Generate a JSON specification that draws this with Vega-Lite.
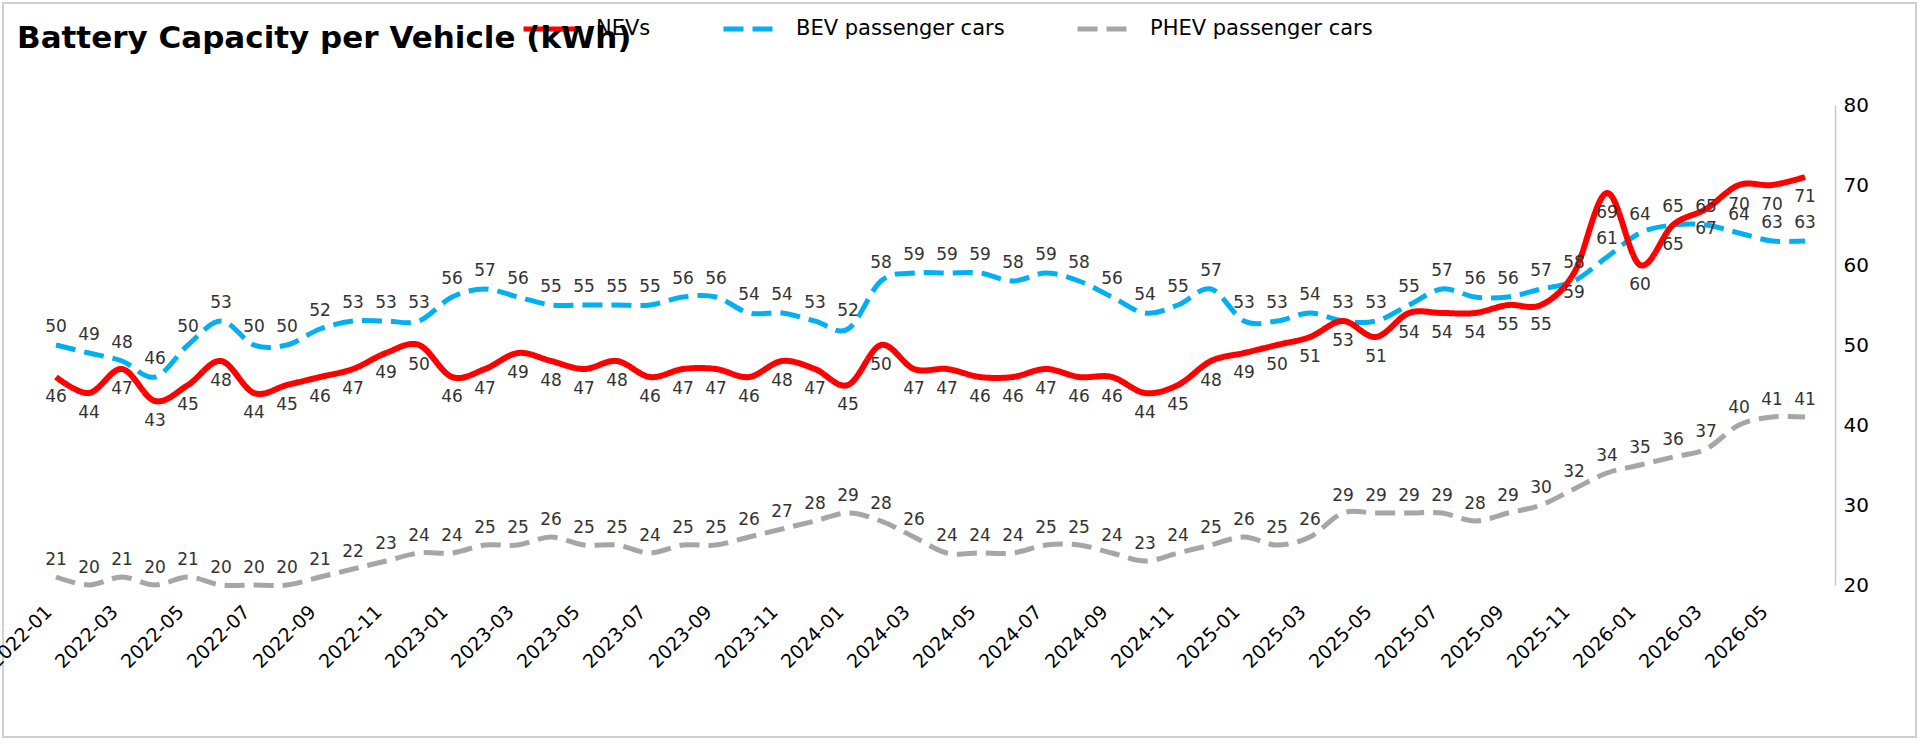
{
  "$schema": "https://vega.github.io/schema/vega-lite/v6.json",
  "width": 1913,
  "height": 734,
  "autosize": {"type": "none"},
  "padding": {"left": 3, "top": 3, "right": 6, "bottom": 9},
  "background": "white",
  "config": {
    "view": {"stroke": "#d0d0d0", "strokeWidth": 2},
    "font": "DejaVu Sans"
  },
  "title": {
    "text": "Battery Capacity per Vehicle (kWh)",
    "anchor": "start",
    "frame": "group",
    "font": "DejaVu Sans",
    "fontSize": 31,
    "fontWeight": "bold",
    "color": "black",
    "offset": -41,
    "baseline": "middle",
    "dx": 14,
    "dy": 30
  },
  "data": {
    "values": [
      {"month": "2022-01", "NEVs": 46, "BEV passenger cars": 50, "PHEV passenger cars": 21},
      {"month": "2022-02", "NEVs": 44, "BEV passenger cars": 49, "PHEV passenger cars": 20},
      {"month": "2022-03", "NEVs": 47, "BEV passenger cars": 48, "PHEV passenger cars": 21},
      {"month": "2022-04", "NEVs": 43, "BEV passenger cars": 46, "PHEV passenger cars": 20},
      {"month": "2022-05", "NEVs": 45, "BEV passenger cars": 50, "PHEV passenger cars": 21},
      {"month": "2022-06", "NEVs": 48, "BEV passenger cars": 53, "PHEV passenger cars": 20},
      {"month": "2022-07", "NEVs": 44, "BEV passenger cars": 50, "PHEV passenger cars": 20},
      {"month": "2022-08", "NEVs": 45, "BEV passenger cars": 50, "PHEV passenger cars": 20},
      {"month": "2022-09", "NEVs": 46, "BEV passenger cars": 52, "PHEV passenger cars": 21},
      {"month": "2022-10", "NEVs": 47, "BEV passenger cars": 53, "PHEV passenger cars": 22},
      {"month": "2022-11", "NEVs": 49, "BEV passenger cars": 53, "PHEV passenger cars": 23},
      {"month": "2022-12", "NEVs": 50, "BEV passenger cars": 53, "PHEV passenger cars": 24},
      {"month": "2023-01", "NEVs": 46, "BEV passenger cars": 56, "PHEV passenger cars": 24},
      {"month": "2023-02", "NEVs": 47, "BEV passenger cars": 57, "PHEV passenger cars": 25},
      {"month": "2023-03", "NEVs": 49, "BEV passenger cars": 56, "PHEV passenger cars": 25},
      {"month": "2023-04", "NEVs": 48, "BEV passenger cars": 55, "PHEV passenger cars": 26},
      {"month": "2023-05", "NEVs": 47, "BEV passenger cars": 55, "PHEV passenger cars": 25},
      {"month": "2023-06", "NEVs": 48, "BEV passenger cars": 55, "PHEV passenger cars": 25},
      {"month": "2023-07", "NEVs": 46, "BEV passenger cars": 55, "PHEV passenger cars": 24},
      {"month": "2023-08", "NEVs": 47, "BEV passenger cars": 56, "PHEV passenger cars": 25},
      {"month": "2023-09", "NEVs": 47, "BEV passenger cars": 56, "PHEV passenger cars": 25},
      {"month": "2023-10", "NEVs": 46, "BEV passenger cars": 54, "PHEV passenger cars": 26},
      {"month": "2023-11", "NEVs": 48, "BEV passenger cars": 54, "PHEV passenger cars": 27},
      {"month": "2023-12", "NEVs": 47, "BEV passenger cars": 53, "PHEV passenger cars": 28},
      {"month": "2024-01", "NEVs": 45, "BEV passenger cars": 52, "PHEV passenger cars": 29},
      {"month": "2024-02", "NEVs": 50, "BEV passenger cars": 58, "PHEV passenger cars": 28},
      {"month": "2024-03", "NEVs": 47, "BEV passenger cars": 59, "PHEV passenger cars": 26},
      {"month": "2024-04", "NEVs": 47, "BEV passenger cars": 59, "PHEV passenger cars": 24},
      {"month": "2024-05", "NEVs": 46, "BEV passenger cars": 59, "PHEV passenger cars": 24},
      {"month": "2024-06", "NEVs": 46, "BEV passenger cars": 58, "PHEV passenger cars": 24},
      {"month": "2024-07", "NEVs": 47, "BEV passenger cars": 59, "PHEV passenger cars": 25},
      {"month": "2024-08", "NEVs": 46, "BEV passenger cars": 58, "PHEV passenger cars": 25},
      {"month": "2024-09", "NEVs": 46, "BEV passenger cars": 56, "PHEV passenger cars": 24},
      {"month": "2024-10", "NEVs": 44, "BEV passenger cars": 54, "PHEV passenger cars": 23},
      {"month": "2024-11", "NEVs": 45, "BEV passenger cars": 55, "PHEV passenger cars": 24},
      {"month": "2024-12", "NEVs": 48, "BEV passenger cars": 57, "PHEV passenger cars": 25},
      {"month": "2025-01", "NEVs": 49, "BEV passenger cars": 53, "PHEV passenger cars": 26},
      {"month": "2025-02", "NEVs": 50, "BEV passenger cars": 53, "PHEV passenger cars": 25},
      {"month": "2025-03", "NEVs": 51, "BEV passenger cars": 54, "PHEV passenger cars": 26},
      {"month": "2025-04", "NEVs": 53, "BEV passenger cars": 53, "PHEV passenger cars": 29},
      {"month": "2025-05", "NEVs": 51, "BEV passenger cars": 53, "PHEV passenger cars": 29},
      {"month": "2025-06", "NEVs": 54, "BEV passenger cars": 55, "PHEV passenger cars": 29},
      {"month": "2025-07", "NEVs": 54, "BEV passenger cars": 57, "PHEV passenger cars": 29},
      {"month": "2025-08", "NEVs": 54, "BEV passenger cars": 56, "PHEV passenger cars": 28},
      {"month": "2025-09", "NEVs": 55, "BEV passenger cars": 56, "PHEV passenger cars": 29},
      {"month": "2025-10", "NEVs": 55, "BEV passenger cars": 57, "PHEV passenger cars": 30},
      {"month": "2025-11", "NEVs": 59, "BEV passenger cars": 58, "PHEV passenger cars": 32},
      {"month": "2025-12", "NEVs": 69, "BEV passenger cars": 61, "PHEV passenger cars": 34},
      {"month": "2026-01", "NEVs": 60, "BEV passenger cars": 64, "PHEV passenger cars": 35},
      {"month": "2026-02", "NEVs": 65, "BEV passenger cars": 65, "PHEV passenger cars": 36},
      {"month": "2026-03", "NEVs": 67, "BEV passenger cars": 65, "PHEV passenger cars": 37},
      {"month": "2026-04", "NEVs": 70, "BEV passenger cars": 64, "PHEV passenger cars": 40},
      {"month": "2026-05", "NEVs": 70, "BEV passenger cars": 63, "PHEV passenger cars": 41},
      {"month": "2026-06", "NEVs": 71, "BEV passenger cars": 63, "PHEV passenger cars": 41}
    ]
  },
  "transform": [
    {"fold": ["NEVs", "BEV passenger cars", "PHEV passenger cars"], "as": ["series", "kwh"]}
  ],
  "encoding": {
    "x": {
      "field": "month",
      "type": "ordinal",
      "sort": null,
      "title": null,
      "scale": {"type": "point", "range": [53, 1802], "padding": 0},
      "axis": {
        "values": ["2022-01", "2022-03", "2022-05", "2022-07", "2022-09", "2022-11", "2023-01", "2023-03", "2023-05", "2023-07", "2023-09", "2023-11", "2024-01", "2024-03", "2024-05", "2024-07", "2024-09", "2024-11", "2025-01", "2025-03", "2025-05", "2025-07", "2025-09", "2025-11", "2026-01", "2026-03", "2026-05"],
        "labelAngle": -45,
        "labelAlign": "right",
        "labelBaseline": "top",
        "labelFont": "DejaVu Sans",
        "labelFontSize": 19,
        "labelColor": "black",
        "labelOffset": -14,
        "domain": false,
        "ticks": false,
        "tickSize": 0,
        "grid": false,
        "labelPadding": 0,
        "labelOverlap": false,
        "offset": -135
      }
    },
    "y": {
      "field": "kwh",
      "type": "quantitative",
      "title": null,
      "scale": {"domain": [20, 80], "range": [582, 102], "nice": false, "zero": false},
      "axis": {
        "orient": "right",
        "offset": -81,
        "values": [20, 30, 40, 50, 60, 70, 80],
        "domainColor": "#c8c8c8",
        "domainWidth": 1.5,
        "ticks": false,
        "tickSize": 0,
        "grid": false,
        "labelPadding": 8,
        "labelFont": "DejaVu Sans",
        "labelFontSize": 20,
        "labelColor": "black"
      }
    }
  },
  "layer": [
    {
      "transform": [{"filter": "datum.series != 'NEVs'"}],
      "mark": {"type": "line", "interpolate": "cardinal", "strokeWidth": 5},
      "encoding": {
        "color": {
          "field": "series",
          "type": "nominal",
          "scale": {"domain": ["NEVs", "BEV passenger cars", "PHEV passenger cars"], "range": ["#ff0000", "#00b0f0", "#a6a6a6"]},
          "legend": {
            "title": null, "orient": "none", "legendX": 518, "legendY": -4, "direction": "horizontal",
            "symbolType": "stroke", "symbolSize": 3025, "symbolStrokeWidth": 5, "labelFont": "DejaVu Sans",
            "labelFontSize": 21, "labelColor": "black", "labelOffset": 15, "columnPadding": 62, "padding": 0, "labelLimit": 400
          }
        },
        "strokeDash": {
          "field": "series",
          "type": "nominal",
          "scale": {"domain": ["NEVs", "BEV passenger cars", "PHEV passenger cars"], "range": [[1, 0], [20, 9], [20, 9]]},
          "legend": {
            "title": null, "orient": "none", "legendX": 518, "legendY": -4, "direction": "horizontal",
            "symbolType": "stroke", "symbolSize": 3025, "symbolStrokeWidth": 5, "labelFont": "DejaVu Sans",
            "labelFontSize": 21, "labelColor": "black", "labelOffset": 15, "columnPadding": 62, "padding": 0, "labelLimit": 400
          }
        }
      }
    },
    {
      "transform": [{"filter": "datum.series == 'NEVs'"}],
      "mark": {"type": "line", "interpolate": "cardinal", "strokeWidth": 6},
      "encoding": {
        "color": {"field": "series", "type": "nominal"},
        "strokeDash": {"field": "series", "type": "nominal"}
      }
    },
    {
      "transform": [{"filter": "datum.series == 'NEVs'"}],
      "mark": {"type": "text", "dy": 20, "fontSize": 17, "font": "DejaVu Sans", "color": "#333333"},
      "encoding": {"text": {"field": "kwh", "type": "quantitative"}}
    },
    {
      "transform": [{"filter": "datum.series == 'BEV passenger cars'"}],
      "mark": {"type": "text", "dy": -18, "fontSize": 17, "font": "DejaVu Sans", "color": "#333333"},
      "encoding": {"text": {"field": "kwh", "type": "quantitative"}}
    },
    {
      "transform": [{"filter": "datum.series == 'PHEV passenger cars'"}],
      "mark": {"type": "text", "dy": -17, "fontSize": 17, "font": "DejaVu Sans", "color": "#333333"},
      "encoding": {"text": {"field": "kwh", "type": "quantitative"}}
    }
  ]
}
